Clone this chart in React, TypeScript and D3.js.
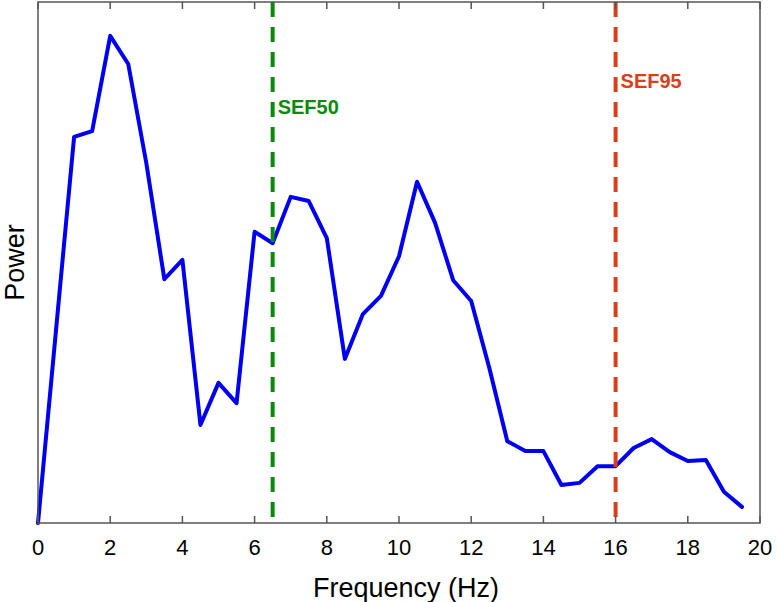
import * as d3 from 'd3';

// frequency bins (Hz) and estimated power values
const frequencies = [
  0, 0.5, 1, 1.5, 2, 2.5, 3, 3.5, 4, 4.5, 5, 5.5, 6, 6.5, 7, 7.5, 8, 8.5, 9, 9.5,
  10, 10.5, 11, 11.5, 12, 12.5, 13, 13.5, 14, 14.5, 15, 15.5, 16, 16.5, 17, 17.5, 18, 18.5, 19, 19.5
];
const power = [
  0, 37.1, 74.1, 75.2, 93.5, 88.1, 69.1, 46.8, 50.5, 18.8, 26.9, 23.0, 55.9, 53.7, 62.6, 61.8, 54.7, 31.5, 40.1, 43.6,
  51.2, 65.5, 57.6, 46.6, 42.6, 29.8, 15.7, 13.8, 13.8, 7.3, 7.7, 10.9, 10.9, 14.4, 16.1, 13.6, 11.9, 12.1, 6.0, 3.1
];
const xTicks = [0, 2, 4, 6, 8, 10, 12, 14, 16, 18, 20];

const markers = [
  { name: 'SEF50', freq: 6.5, color: '#0a8a0a', labelY: 114 },
  { name: 'SEF95', freq: 16, color: '#d9401a', labelY: 88 }
];

const W = 777;
const H = 602;
const plot = { left: 38, right: 760, top: 2, bottom: 523 };
const FONT = '"Liberation Sans", Arial, Helvetica, sans-serif';
const AXIS = '#555';

export default function App() {
  const x = d3.scaleLinear().domain([0, 20]).range([plot.left, plot.right]);
  const y = d3.scaleLinear().domain([0, 100]).range([plot.bottom, plot.top]);

  const data = frequencies.map((f, i) => [f, power[i]] as [number, number]);
  const line = d3.line<[number, number]>()
    .x(d => x(d[0]))
    .y(d => y(d[1]));

  return (
    <svg width={W} height={H} style={{ position: 'absolute', left: 0, top: 0, background: '#fff' }}
      fontFamily={FONT}>
      {/* spectrum */}
      <path d={line(data) ?? ''} fill="none" stroke="#0000f0" strokeWidth={4}
        strokeLinejoin="round" strokeLinecap="round" />

      {/* spectral edge markers */}
      {markers.map(m => (
        <g key={m.name}>
          <line x1={x(m.freq)} x2={x(m.freq)} y1={y(100)} y2={y(0)}
            stroke={m.color} strokeWidth={4} strokeDasharray="15,10" />
          <text x={x(m.freq) + 5} y={m.labelY} fill={m.color} fontSize={20} fontWeight="bold">
            {m.name}
          </text>
        </g>
      ))}

      {/* axes box */}
      <rect x={plot.left} y={plot.top} width={plot.right - plot.left} height={plot.bottom - plot.top}
        fill="none" stroke={AXIS} strokeWidth={1.5} />
      {xTicks.map(t => (
        <g key={t}>
          <line x1={x(t)} x2={x(t)} y1={plot.bottom} y2={plot.bottom - 7} stroke={AXIS} strokeWidth={1.5} />
          <line x1={x(t)} x2={x(t)} y1={plot.top} y2={plot.top + 7} stroke={AXIS} strokeWidth={1.5} />
          <text x={x(t)} y={555} textAnchor="middle" fontSize={22} fill="#000">{t}</text>
        </g>
      ))}

      <text x={(plot.left + plot.right) / 2 + 7} y={597} textAnchor="middle" fontSize={27} fill="#000">
        Frequency (Hz)
      </text>
      <text transform={`translate(24,${(plot.top + plot.bottom) / 2}) rotate(-90)`} textAnchor="middle"
        fontSize={27} fill="#000">
        Power
      </text>
    </svg>
  );
}
